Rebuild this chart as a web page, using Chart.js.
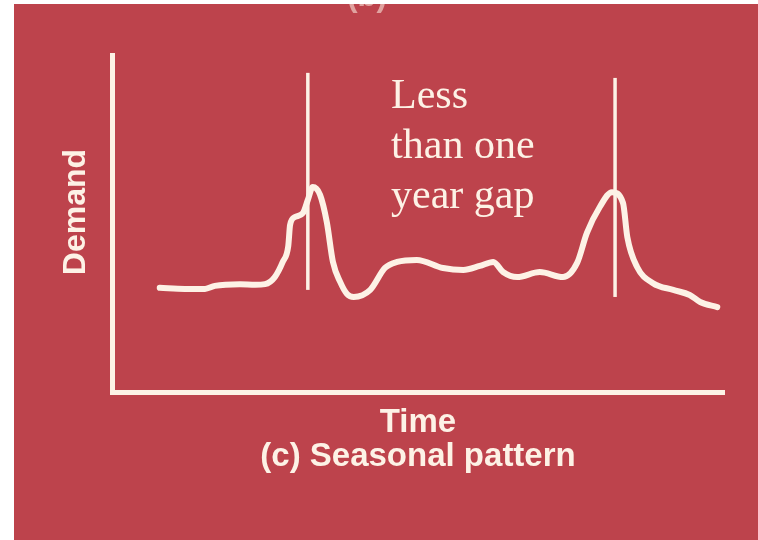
<!DOCTYPE html>
<html>
<head>
<meta charset="utf-8">
<title>Seasonal pattern</title>
<script src="https://cdn.jsdelivr.net/npm/chart.js@4/dist/chart.umd.min.js"></script>
<style>
  html, body { margin: 0; padding: 0; background: #ffffff; }
  canvas { display: block; }
</style>
</head>
<body>
<canvas id="myChart" width="758" height="540"></canvas>
<script>
// demand curve (time and demand both on a 0..100 scale)
const timePoints = [7.8, 11.9, 15.2, 16.8, 20.9, 23.4, 25.0, 26.6, 27.9, 28.8, 29.1, 29.9, 31.2, 32.0, 32.8,
    34.0, 35.1, 36.1, 37.3, 38.4, 39.5, 42.2, 44.6, 46.6, 49.8, 54.1, 57.4, 60.1, 62.3, 63.9, 66.2,
    69.9, 73.7, 76.0, 77.6, 79.7, 81.7, 83.5, 84.2, 85.8, 88.4, 91.7, 94.4, 96.1, 98.9];
const demandValues = [30.9, 30.6, 30.6, 31.5, 32.0, 31.8, 32.0, 34.1, 38.6, 43.3, 49.6, 51.9, 53.1, 57.0, 60.8,
    58.5, 50.4, 38.6, 32.6, 29.1, 28.2, 30.3, 36.8, 38.6, 39.2, 36.8, 36.2, 37.4, 38.6, 35.6, 34.1,
    35.6, 34.1, 38.3, 47.2, 54.9, 59.3, 56.1, 46.0, 37.1, 32.3, 30.3, 28.8, 26.7, 25.2];

// the two vertical marker lines through the peaks
const peakTimes = [32.0, 82.2];
const markerTops = [94.7, 93.2];
const markerBottoms = [30.3, 28.2];

const noteLines = ['Less', 'than one', 'year gap'];
const yTitle = 'Demand';
const xTitle = ['Time', '(c) Seasonal pattern'];
const cutOffLabel = '(b)';

const panelRed = 'rgb(189, 67, 76)';
const cream = '#fdf2e6';

const curve = timePoints.map((t, i) => ({x: t, y: demandValues[i]}));
const markers = peakTimes.map((t, i) => ({
    label: 'marker ' + (i + 1),
    data: [{x: t, y: markerBottoms[i]}, {x: t, y: markerTops[i]}],
    borderColor: cream,
    borderWidth: 3.5,
    pointRadius: 0,
    tension: 0
}));

const backdrop = {
    id: 'backdrop',
    beforeDraw(chart) {
        const ctx = chart.ctx;
        ctx.save();
        ctx.fillStyle = '#ffffff';
        ctx.fillRect(0, 0, chart.width, chart.height);
        ctx.fillStyle = panelRed;
        ctx.fillRect(14, 4, chart.width - 14, chart.height - 4);
        ctx.restore();
    }
};

const labels = {
    id: 'labels',
    afterDraw(chart) {
        const ctx = chart.ctx;
        const xs = chart.scales.x;
        const ys = chart.scales.y;
        ctx.save();
        ctx.fillStyle = cream;

        // rotated y title
        ctx.save();
        ctx.translate(85, 212);
        ctx.rotate(-Math.PI / 2);
        ctx.font = 'bold 32px "Liberation Sans", Arial, sans-serif';
        ctx.textAlign = 'center';
        ctx.textBaseline = 'alphabetic';
        ctx.fillText(yTitle, 0, 0);
        ctx.restore();

        // note next to the peaks
        ctx.font = '42px "Liberation Serif", "Times New Roman", serif';
        ctx.textAlign = 'left';
        ctx.textBaseline = 'alphabetic';
        const nx = xs.getPixelForValue(45.6);
        const ny = ys.getPixelForValue(84.3);
        noteLines.forEach((line, i) => {
            ctx.fillText(line, nx, ny + i * 50);
        });

        // remains of the panel label above, cut off by the edge
        ctx.beginPath();
        ctx.rect(14, 4, chart.width - 14, 40);
        ctx.clip();
        ctx.globalAlpha = 0.55;
        ctx.font = 'bold 31px "Liberation Sans", Arial, sans-serif';
        ctx.textAlign = 'center';
        ctx.fillText(cutOffLabel, 367, 6);
        ctx.restore();
    }
};

const data = {
    datasets: [{
        label: 'Demand',
        data: curve,
        borderColor: cream,
        borderWidth: 6,
        borderCapStyle: 'round',
        borderJoinStyle: 'round',
        cubicInterpolationMode: 'monotone',
        pointRadius: 0
    }].concat(markers)
};

const config = {
    type: 'line',
    data: data,
    options: {
        responsive: false,
        animation: false,
        layout: {
            padding: {left: 14, top: 55, right: 34, bottom: 0}
        },
        plugins: {
            legend: {display: false},
            tooltip: {enabled: false}
        },
        scales: {
            x: {
                type: 'linear',
                min: 0,
                max: 100,
                grid: {display: false},
                ticks: {display: false},
                border: {color: cream, width: 5},
                title: {
                    display: true,
                    text: xTitle,
                    color: cream,
                    font: {family: '"Liberation Sans", Arial, sans-serif', size: 33, weight: 'bold', lineHeight: 1.03},
                    padding: {top: 0, bottom: 66}
                },
                afterFit: (scale) => { scale.height = 148; }
            },
            y: {
                type: 'linear',
                min: 0,
                max: 100,
                grid: {display: false},
                ticks: {display: false},
                border: {color: cream, width: 5},
                afterFit: (scale) => { scale.width = 98; }
            }
        }
    },
    plugins: [backdrop, labels]
};

const myChart = new Chart(
    document.getElementById('myChart'),
    config
);
</script>
</body>
</html>
